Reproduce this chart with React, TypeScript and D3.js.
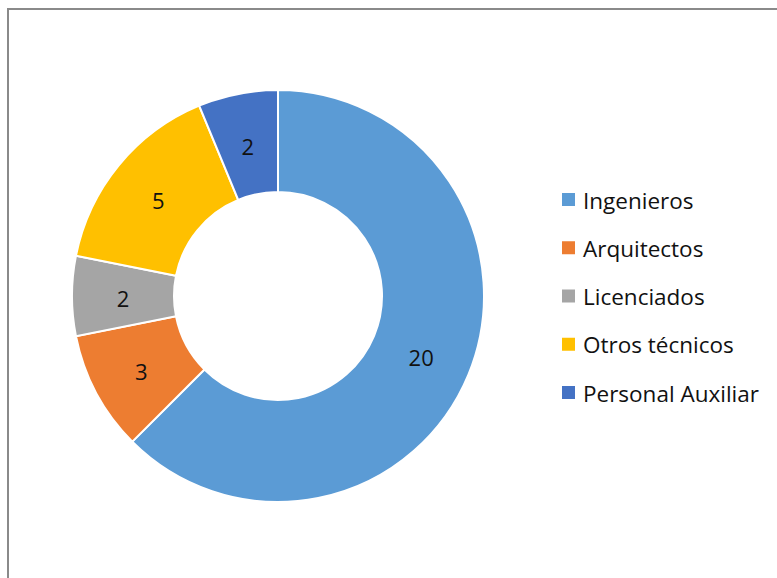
import React from 'react';
import * as d3 from 'd3';

const categories = ['Ingenieros', 'Arquitectos', 'Licenciados', 'Otros técnicos', 'Personal Auxiliar'];
const values = [20, 3, 2, 5, 2];
const colors = ['#5B9BD5', '#ED7D31', '#A5A5A5', '#FFC000', '#4472C4'];

const width = 777;
const height = 578;

export default function App() {
  const cx = 278;
  const cy = 296;
  const outerR = 206;
  const innerR = 104;

  const pie = d3.pie<number>().sort(null).value(d => d);
  const arcs = pie(values);
  const arc = d3.arc<d3.PieArcDatum<number>>().innerRadius(innerR).outerRadius(outerR);

  const legendY = d3.scalePoint<string>()
    .domain(categories)
    .range([200, 393]);

  const font = '"Open Sans", "Noto Sans", sans-serif';

  return (
    <svg
      width={width}
      height={height}
      style={{ position: 'absolute', left: 0, top: 0 }}
    >
      <rect x={0} y={0} width={width} height={height} fill="#fff" />
      <rect x={8} y={9} width={width + 20} height={height + 20} fill="none" stroke="#8a8a8a" strokeWidth={2} />
      <g transform={`translate(${cx},${cy})`}>
        {arcs.map((a, i) => (
          <path key={i} d={arc(a) || ''} fill={colors[i]} stroke="#fff" strokeWidth={2} />
        ))}
        {arcs.map((a, i) => {
          const [x, y] = arc.centroid(a);
          return (
            <text
              key={i}
              x={x}
              y={y + 2}
              textAnchor="middle"
              dominantBaseline="central"
              fontFamily={font}
              fontSize={22}
              fill="#111"
            >
              {values[i]}
            </text>
          );
        })}
      </g>
      <g>
        {categories.map((c, i) => {
          const y = legendY(c) as number;
          return (
            <g key={c}>
              <rect x={562} y={y - 7} width={13} height={13} fill={colors[i]} />
              <text
                x={583}
                y={y}
                dominantBaseline="central"
                fontFamily={font}
                fontSize={22.5}
                fill="#111"
              >
                {c}
              </text>
            </g>
          );
        })}
      </g>
    </svg>
  );
}
